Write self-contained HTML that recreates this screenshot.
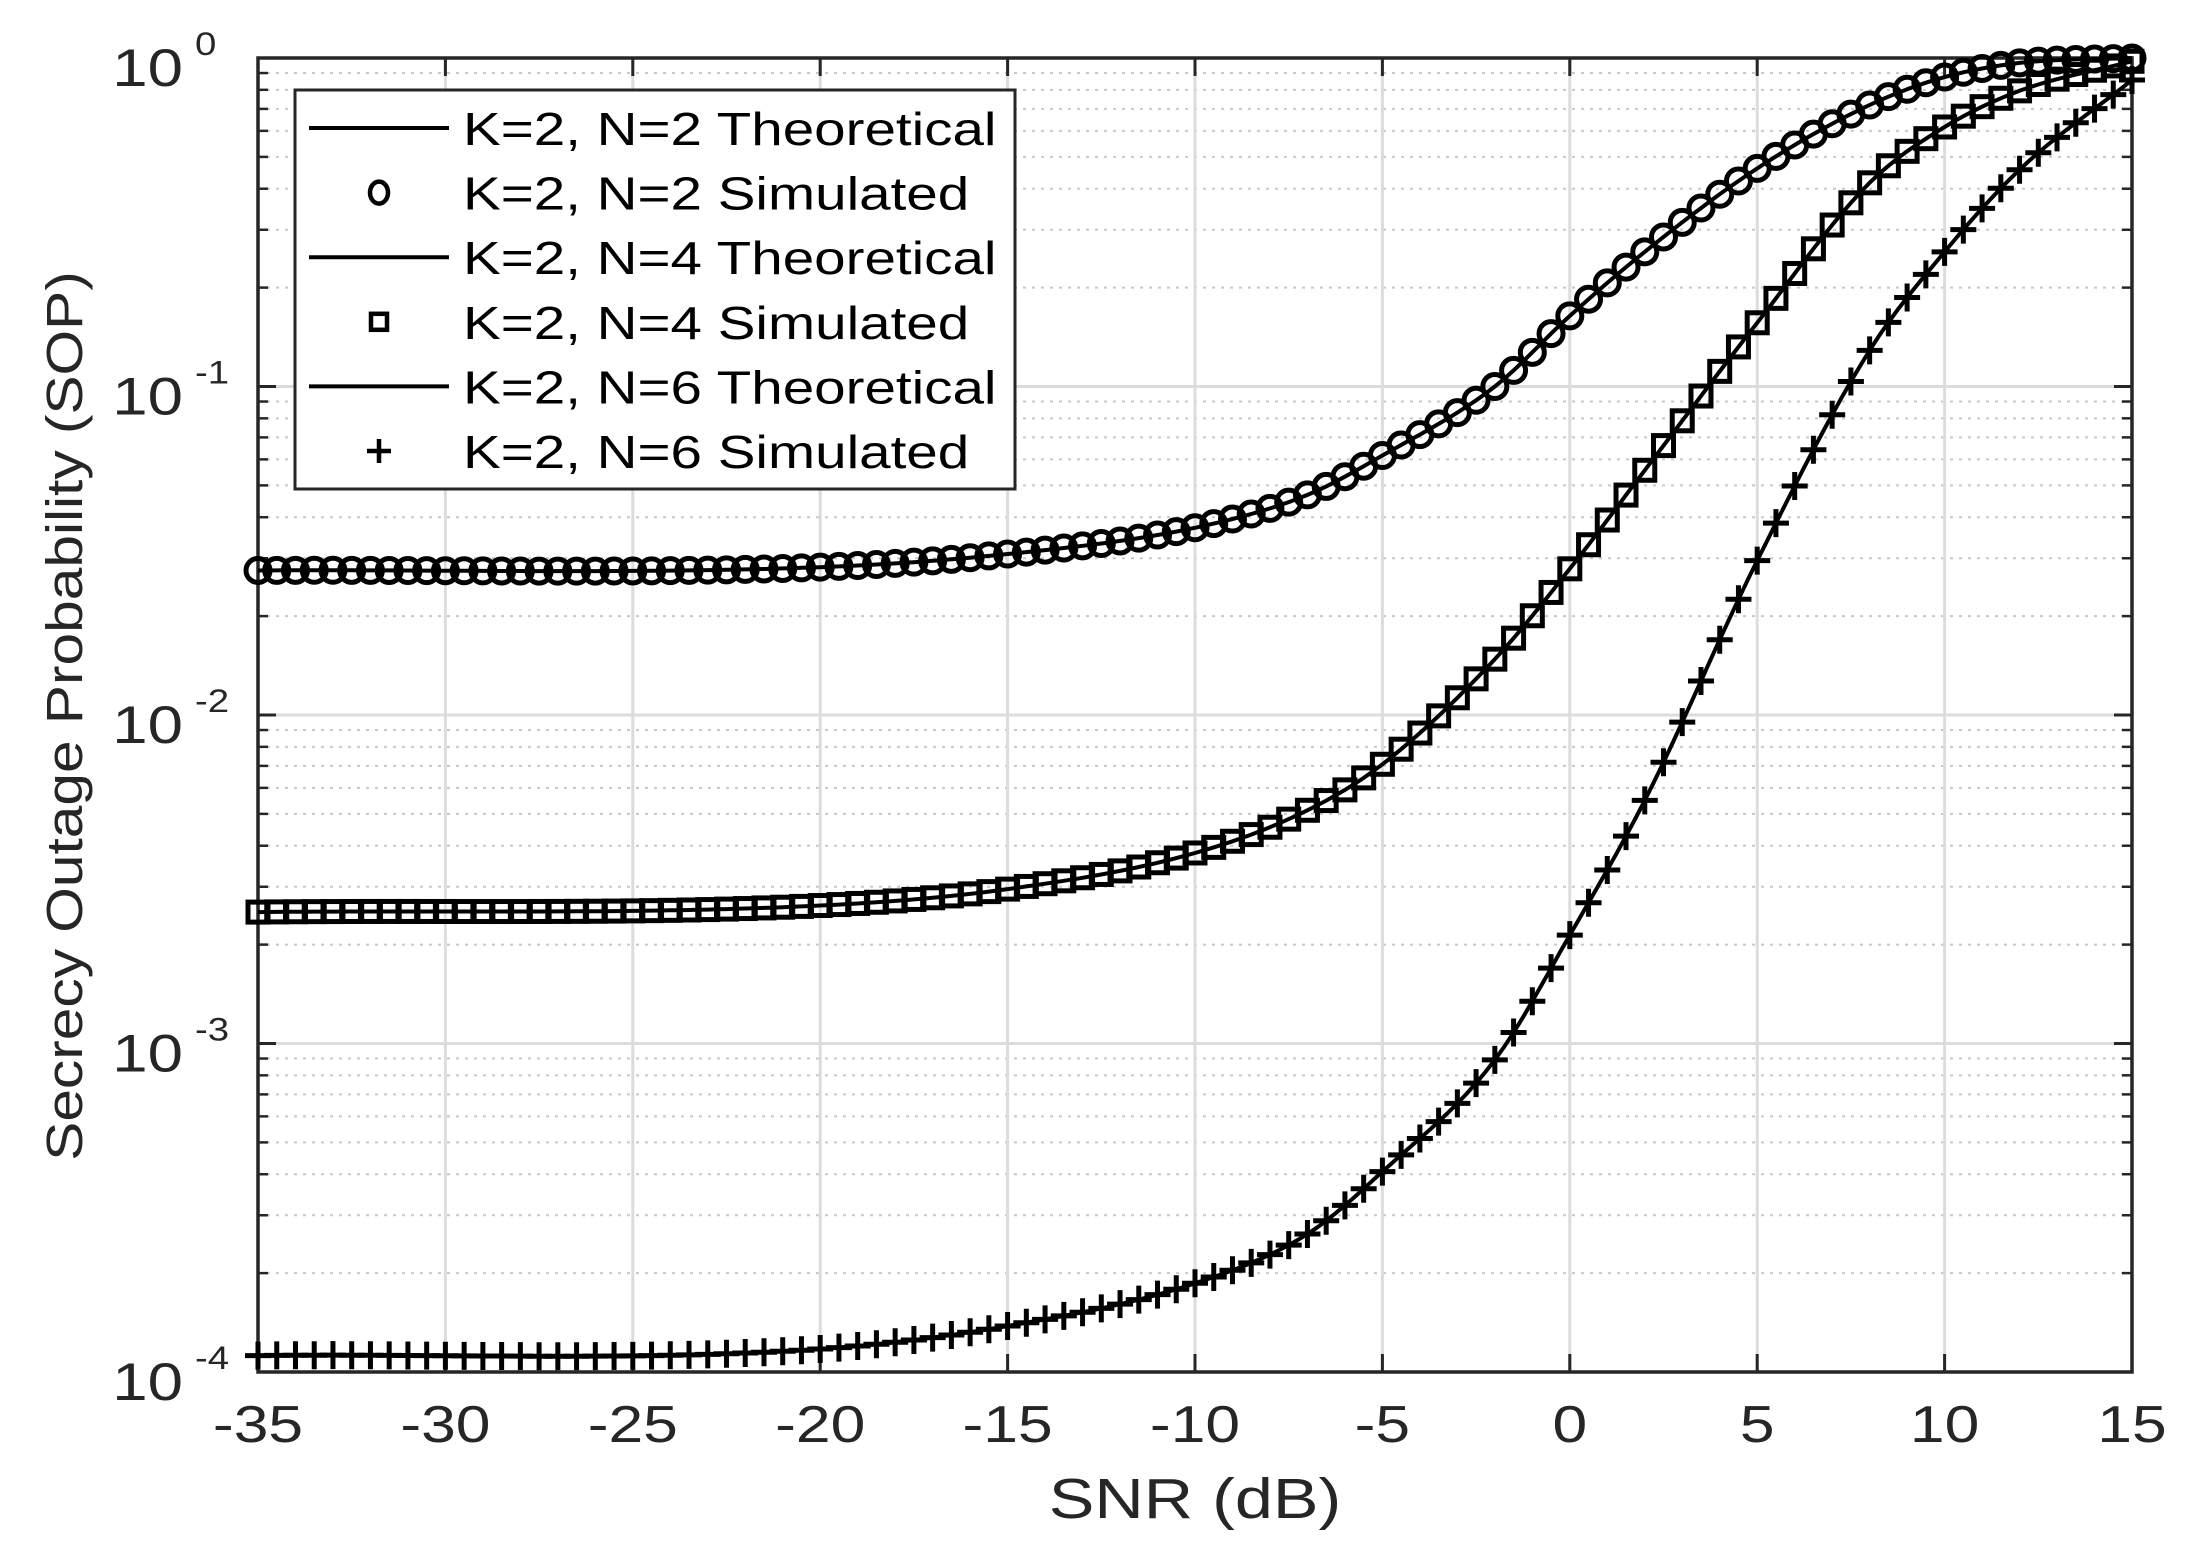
<!DOCTYPE html>
<html><head><meta charset="utf-8"><style>
html,body{margin:0;padding:0;background:#fff;}
svg{display:block;}
text{font-family:"Liberation Sans",Arial,sans-serif;fill:#262626;}
</style></head><body>
<svg id="s" width="2191" height="1551" viewBox="0 0 2191 1551" xmlns="http://www.w3.org/2000/svg"></svg>
<script>
const L=258,R=2132,T=58,B=1372,D=(B-T)/4;
const X=s=>L+(s+35)*(R-L)/50, Y=lg=>T-lg*D;
const tx=(x,y,fs,s,anchor,fill,sx)=>`<text transform="translate(${x},${y}) scale(${sx||1.2},1)" font-size="${fs}" text-anchor="${anchor||'start'}"${fill?` style="fill:${fill}"`:''}>${s}</text>`;
let h='<rect width="2191" height="1551" fill="#fff"/>';
for(let d=0;d<4;d++)for(let m=2;m<=9;m++){const y=Y(-d-1+Math.log10(m));
h+=`<line x1="${L}" x2="${R}" y1="${y}" y2="${y}" stroke="#c8c8c8" stroke-width="2" stroke-dasharray="3,6"/>`;
h+=`<line x1="${L}" x2="${L+10}" y1="${y}" y2="${y}" stroke="#262626" stroke-width="2.5"/><line x1="${R-10}" x2="${R}" y1="${y}" y2="${y}" stroke="#262626" stroke-width="2.5"/>`;}
for(let d=1;d<4;d++){const y=Y(-d);h+=`<line x1="${L}" x2="${R}" y1="${y}" y2="${y}" stroke="#dcdcdc" stroke-width="3"/>`;}
for(let s=-30;s<15;s+=5){const x=X(s);h+=`<line x1="${x}" x2="${x}" y1="${T}" y2="${B}" stroke="#dcdcdc" stroke-width="3"/>`;}
for(let s=-35;s<=15;s+=5){const x=X(s);h+=`<line x1="${x}" x2="${x}" y1="${B}" y2="${B-18}" stroke="#262626" stroke-width="3"/><line x1="${x}" x2="${x}" y1="${T}" y2="${T+18}" stroke="#262626" stroke-width="3"/>`;
h+=tx(x,1442,52,s,'middle');}
for(let d=0;d<=4;d++){const y=Y(-d);h+=`<line x1="${L}" x2="${L+18}" y1="${y}" y2="${y}" stroke="#262626" stroke-width="3"/><line x1="${R-18}" x2="${R}" y1="${y}" y2="${y}" stroke="#262626" stroke-width="3"/>`;
h+=tx(183,y+28,53,'10','end')+tx(195,y-3,32,d?'-'+d:'0');}
h+=`<rect x="${L}" y="${T}" width="${R-L}" height="${B-T}" fill="none" stroke="#262626" stroke-width="3.5"/>`;
const K=[-35,-20,-15,-10,-7,-5,-2,0,2,5,8,10,12,15];
const C=[
[-1.56,-1.55,-1.51,-1.43,-1.33,-1.21,-1.0,-0.785,-0.59,-0.336,-0.143,-0.058,-0.015,0],
[-2.60,-2.58,-2.53,-2.42,-2.29,-2.15,-1.83,-1.555,-1.255,-0.806,-0.38,-0.21,-0.10,-0.01],
[-3.95,-3.93,-3.86,-3.73,-3.58,-3.39,-3.05,-2.67,-2.26,-1.53,-0.89,-0.59,-0.34,-0.067]];
function f(c,s){
 const n=K.length,dl=[],m=[];for(let i=0;i<n-1;i++)dl.push((c[i+1]-c[i])/(K[i+1]-K[i]));
 m[0]=dl[0];m[n-1]=dl[n-2];for(let i=1;i<n-1;i++)m[i]=dl[i-1]*dl[i]<=0?0:(dl[i-1]+dl[i])/2;
 let i=0;while(i<n-2&&s>K[i+1])i++;const hh=K[i+1]-K[i],t=(s-K[i])/hh;
 const h00=2*t*t*t-3*t*t+1,h10=t*t*t-2*t*t+t,h01=-2*t*t*t+3*t*t,h11=t*t*t-t*t;
 return h00*c[i]+h10*hh*m[i]+h01*c[i+1]+h11*hh*m[i+1];}
C.forEach((c,k)=>{let p='';for(let s=-35;s<=15.001;s+=0.25)p+=(p?'L':'M')+X(s).toFixed(1)+','+Y(f(c,s)).toFixed(1);
 h+=`<path d="${p}" fill="none" stroke="#000" stroke-width="4"/>`;
 for(let s=-35;s<=15.001;s+=0.5){const x=X(s),y=Y(f(c,s));
  if(k==0)h+=`<ellipse cx="${x}" cy="${y}" rx="12" ry="12" fill="none" stroke="#000" stroke-width="5"/>`;
  else if(k==1)h+=`<rect x="${x-10}" y="${y-10}" width="20" height="20" fill="none" stroke="#000" stroke-width="5"/>`;
  else h+=`<path d="M${x-13},${y}H${x+13}M${x},${y-14}V${y+14}" stroke="#000" stroke-width="5"/>`;}});
h+=`<rect x="295" y="90" width="720" height="399" fill="#fff" stroke="#262626" stroke-width="3"/>`;
const labs=['K=2, N=2 Theoretical','K=2, N=2 Simulated','K=2, N=4 Theoretical','K=2, N=4 Simulated','K=2, N=6 Theoretical','K=2, N=6 Simulated'];
labs.forEach((t,i)=>{const y=128+i*64.6;
 if(i%2==0)h+=`<line x1="309" x2="449" y1="${y}" y2="${y}" stroke="#000" stroke-width="4"/>`;
 else if(i==1)h+=`<ellipse cx="379" cy="${y}" rx="9" ry="11" fill="none" stroke="#000" stroke-width="4.5"/>`;
 else if(i==3)h+=`<rect x="371" y="${y-8}" width="16" height="16" fill="none" stroke="#000" stroke-width="4.5"/>`;
 else h+=`<path d="M367,${y}H391M379,${y-12}V${y+12}" stroke="#000" stroke-width="4.5"/>`;
 h+=tx(463,y+17,46,t,'start','#000',1.23);});
h+=tx(1195,1518,57,'SNR (dB)','middle');
h+=`<text transform="translate(82,716) rotate(-90) scale(1.15,1)" font-size="51" text-anchor="middle">Secrecy Outage Probability (SOP)</text>`;
document.getElementById('s').innerHTML=h;
</script>
</body></html>
